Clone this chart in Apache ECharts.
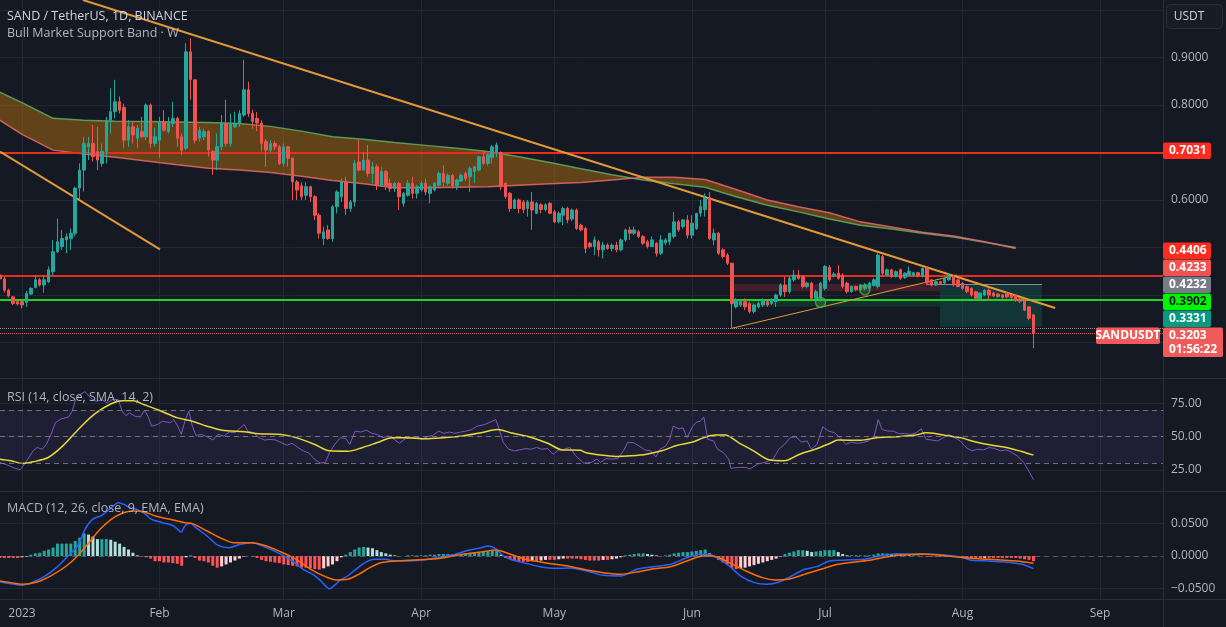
<!DOCTYPE html>
<html><head><meta charset="utf-8">
<script src="https://cdn.jsdelivr.net/npm/echarts@6/dist/echarts.min.js"></script>
<style>html,body{margin:0;padding:0;background:#151924;}#c{width:1226px;height:627px;}</style>
</head><body><div id="c"></div><script>
// ---------- DATA (day 0 = 2023-01-01, first candle = 2022-12-27) ----------
const firstDay = -5;
const open = [
.442,.434,.410,.396,.386,
.386,.384,.402,.416,.432,.421,.428,.449,.491,.502,
.516,.519,.530,.625,.663,.712,.719,.702,.677,.702,
.768,.786,.807,.795,.726,.754,.730,.744,.733,.800,
.719,.726,.765,.744,.761,.772,.733,.709,.912,.853,
.730,.733,.744,.702,.684,.712,.761,.719,.754,.761,
.779,.832,.782,.772,.762,.723,.705,.719,.712,.677,
.712,.688,.638,.630,.610,.628,.607,.568,.519,.537,
.519,.586,.607,.638,.582,.596,.680,.663,.684,.656,
.670,.630,.660,.635,.624,.635,.593,.610,.635,.614,
.621,.635,.614,.621,.631,.656,.635,.652,.630,.640,
.656,.649,.660,.663,.691,.677,.690,.700,.700,.635,
.614,.582,.600,.596,.582,.596,.572,.590,.580,.593,
.575,.554,.568,.582,.560,.579,.547,.540,.509,.502,
.512,.495,.505,.498,.505,.495,.516,.537,.530,.533,
.523,.512,.502,.509,.488,.510,.512,.523,.554,.544,
.558,.526,.540,.572,.580,.605,.516,.530,.495,.484,
.467,.375,.379,.386,.382,.365,.375,.379,.386,.382,
.386,.400,.421,.407,.432,.442,.439,.418,.425,.393,
.393,.414,.458,.440,.446,.442,.425,.407,.418,.411,
.414,.414,.420,.418,.481,.442,.453,.439,.453,.437,
.442,.441,.447,.439,.456,.432,.421,.428,.425,.432,
.439,.432,.425,.418,.414,.407,.393,.400,.410,.404,
.402,.400,.404,.400,.400,.392,.389,.375,.358];
const close = [
.434,.410,.398,.382,.381,
.379,.403,.414,.432,.421,.432,.453,.491,.512,.519,
.523,.530,.625,.663,.719,.719,.691,.684,.702,.768,
.786,.807,.789,.726,.754,.737,.751,.733,.800,.719,
.733,.765,.747,.765,.772,.730,.705,.912,.853,.726,
.747,.744,.705,.684,.712,.761,.719,.761,.761,.782,
.832,.782,.765,.762,.719,.705,.719,.712,.677,.712,
.688,.638,.621,.607,.628,.607,.568,.530,.533,.519,
.586,.617,.638,.582,.596,.677,.663,.684,.656,.670,
.630,.660,.630,.624,.635,.607,.614,.635,.614,.628,
.635,.617,.628,.635,.656,.638,.652,.630,.642,.652,
.645,.666,.670,.691,.677,.695,.712,.716,.628,.607,
.582,.600,.582,.580,.596,.579,.593,.580,.590,.572,
.554,.572,.582,.558,.579,.540,.537,.498,.502,.516,
.495,.505,.498,.505,.495,.516,.537,.530,.537,.523,
.509,.502,.516,.488,.516,.516,.530,.554,.537,.558,
.526,.551,.572,.586,.603,.519,.530,.488,.481,.467,
.382,.389,.386,.375,.365,.379,.382,.389,.379,.389,
.400,.421,.407,.435,.442,.435,.418,.425,.393,.407,
.425,.460,.432,.444,.435,.418,.407,.418,.411,.421,
.421,.425,.432,.484,.446,.453,.439,.449,.435,.446,
.450,.447,.440,.456,.425,.421,.428,.424,.435,.439,
.421,.418,.414,.407,.400,.393,.404,.410,.400,.398,
.397,.395,.396,.394,.389,.387,.368,.351,.3203];
const low = [
.430,.405,.395,.379,.378,
.372,.375,.400,.414,.418,.405,.425,.442,.488,.495,
.488,.495,.523,.600,.618,.684,.681,.663,.670,.677,
.740,.772,.782,.709,.712,.719,.709,.730,.726,.709,
.712,.688,.744,.740,.754,.712,.695,.705,.811,.719,
.723,.726,.691,.653,.663,.705,.712,.712,.751,.754,
.775,.775,.750,.745,.702,.670,.700,.705,.674,.670,
.670,.600,.600,.600,.600,.596,.558,.519,.505,.516,
.512,.572,.596,.568,.575,.586,.660,.663,.649,.635,
.621,.628,.621,.617,.617,.579,.586,.607,.603,.603,
.618,.610,.593,.618,.628,.628,.630,.624,.621,.638,
.640,.617,.635,.660,.674,.672,.677,.690,.621,.603,
.575,.582,.572,.572,.565,.537,.570,.572,.576,.570,
.551,.551,.547,.551,.556,.537,.534,.488,.498,.484,
.481,.477,.495,.492,.490,.492,.512,.516,.526,.520,
.505,.498,.502,.481,.484,.505,.505,.519,.533,.540,
.519,.519,.537,.565,.565,.516,.505,.484,.477,.463,
.330,.372,.375,.368,.361,.361,.372,.375,.375,.379,
.375,.396,.396,.403,.428,.432,.414,.414,.389,.389,
.386,.410,.428,.437,.432,.414,.403,.405,.408,.409,
.410,.412,.418,.414,.439,.440,.436,.437,.432,.434,
.440,.438,.437,.437,.421,.418,.419,.421,.423,.430,
.418,.416,.411,.404,.397,.389,.391,.398,.389,.396,
.394,.392,.393,.392,.386,.383,.366,.347,.288];
const high = [
.446,.438,.413,.398,.390,
.389,.409,.416,.442,.436,.442,.460,.516,.561,.537,
.530,.540,.628,.677,.733,.733,.758,.754,.719,.775,
.835,.853,.818,.803,.768,.765,.758,.775,.803,.803,
.751,.775,.789,.775,.807,.775,.740,.930,.940,.853,
.754,.750,.747,.705,.740,.779,.811,.782,.786,.789,
.895,.849,.790,.785,.768,.728,.726,.724,.716,.719,
.714,.690,.642,.637,.637,.630,.610,.572,.544,.547,
.589,.621,.645,.649,.600,.684,.726,.700,.716,.680,
.675,.670,.663,.645,.638,.638,.617,.642,.649,.632,
.640,.645,.630,.638,.660,.673,.656,.655,.645,.656,
.660,.670,.672,.693,.702,.698,.716,.721,.702,.637,
.617,.603,.603,.600,.600,.617,.596,.593,.593,.596,
.579,.576,.586,.586,.582,.582,.550,.544,.512,.523,
.516,.512,.509,.508,.512,.519,.540,.544,.544,.537,
.526,.516,.523,.512,.526,.520,.530,.575,.558,.560,
.568,.568,.572,.600,.614,.617,.540,.533,.498,.488,
.467,.393,.389,.393,.386,.382,.386,.393,.389,.393,
.403,.425,.439,.439,.453,.453,.442,.428,.428,.411,
.428,.463,.463,.448,.463,.446,.428,.420,.420,.423,
.425,.428,.435,.488,.484,.456,.455,.452,.456,.448,
.460,.449,.449,.458,.460,.434,.430,.430,.437,.446,
.442,.434,.427,.420,.416,.409,.406,.412,.414,.407,
.404,.402,.406,.402,.402,.395,.392,.377,.361];

// Bull Market Support Band (weekly points)
const bandDays = [-5,0,7,14,21,28,35,42,49,56,63,70,77,84,91,98,105,112,119,126,133,140,147,154,161,168,175,182,189,196,203,210,217,224];
const ema21w = [.827,.805,.772,.768,.766,.765,.764,.763,.761,.755,.745,.733,.728,.721,.715,.709,.702,.691,.679,.666,.653,.642,.634,.627,.607,.589,.575,.560,.547,.539,.530,.522,.511,.500];
const sma20w = [.768,.738,.705,.697,.690,.682,.674,.667,.663,.658,.650,.641,.634,.626,.626,.627,.628,.631,.634,.637,.642,.648,.648,.643,.622,.600,.586,.573,.554,.543,.532,.524,.512,.498];

// RSI (14) and its SMA (14) — [day, value]
const rsiLine = [[-5,30.7],[-3.3,28.8],[-1.6,26.3],[-0.4,25.3],[0.2,27.8],[1.3,33.2],[2.5,39.4],[3.4,41.9],[4.6,40.6],[5.5,44.3],[6.7,53.0],[7.5,60.4],[8.8,63.3],[10.5,64.8],[11.3,69.0],[12.1,77.7],[13,81.4],[14.2,83.8],[15.5,78.9],[16.7,76.4],[18,77.7],[19.2,75.2],[20.5,78.1],[21.7,77.7],[22.6,69.0],[23.4,65.8],[24.2,67.8],[25.5,65.3],[26.7,64.8],[27.6,69.8],[28.4,65.3],[29.2,57.9],[30.5,59.1],[31.7,61.6],[33.4,60.4],[34.2,62.8],[35.1,57.9],[35.9,51.7],[36.7,61.6],[37.6,69.0],[38.4,57.9],[39.2,51.0],[40.5,51.7],[41.7,50.0],[43,47.5],[44.2,51.7],[45.5,50.5],[46.7,53.5],[48,53.0],[49.2,56.7],[50.1,59.1],[50.9,54.2],[52.2,53.0],[53.4,49.3],[54.7,47.5],[55.9,48.0],[57.2,47.5],[58.4,45.6],[59.7,43.6],[60.9,45.1],[62.2,41.9],[63.4,39.4],[64.7,37.7],[65.9,33.2],[67.2,30.2],[68.4,30.7],[69.3,38.1],[70.5,44.3],[71.8,49.3],[73,48.5],[73.9,44.3],[75.1,54.2],[76.4,53.5],[77.6,54.9],[78.9,52.5],[80.1,51.7],[81.4,49.3],[82.6,50.5],[83.9,48.0],[85.1,45.1],[86.4,48.5],[87.6,49.3],[88.9,50.0],[90.1,48.0],[91.4,50.0],[92.6,51.0],[93.9,54.2],[95.1,52.5],[96.4,53.5],[97.6,52.5],[98.9,53.5],[100.1,54.2],[101.4,55.4],[102.6,57.9],[104.3,59.1],[105.5,60.9],[106.8,62.8],[107.6,55.4],[108.5,45.6],[109.7,40.6],[111,39.4],[112.2,40.1],[113.5,41.1],[114.7,40.6],[116,41.9],[117.2,40.6],[118.5,41.1],[119.7,36.9],[121,40.1],[122.2,40.6],[123.5,41.9],[124.8,35.7],[126.6,30.2],[128.3,30.7],[129.6,33.2],[130.4,30.7],[131.7,33.7],[133,33.2],[134.3,33.7],[135.6,39.4],[136.5,45.6],[137.8,45.6],[139.1,43.1],[140.4,40.1],[141.7,39.4],[142.9,34.9],[143.8,40.6],[145.1,43.1],[146,48.0],[146.8,57.9],[148.1,55.9],[149,56.7],[149.9,49.3],[151.2,57.9],[152,60.9],[152.9,61.6],[153.7,64.8],[154.6,48.0],[155.9,46.8],[156.8,40.6],[158.1,38.1],[159.3,33.2],[159.8,26.3],[161.5,27.0],[163.2,27.0],[164.1,25.8],[165.8,29.5],[167.5,30.7],[169.3,33.2],[170.6,40.6],[171.9,44.3],[173.2,49.3],[174.4,50.0],[175.7,46.0],[177,46.8],[177.9,40.6],[179.2,44.3],[180.5,57.4],[181.8,54.2],[183.1,53.0],[184.4,49.3],[185.7,44.3],[186.9,46.0],[188.2,45.1],[189.5,45.6],[190.8,46.8],[192.1,50.5],[193,62.8],[193.9,55.4],[195.2,54.2],[196.4,54.2],[197.7,52.2],[199,52.5],[200.3,51.7],[201.6,53.0],[202.7,55.9],[203.8,48.0],[205.1,47.5],[206.4,46.8],[207.7,49.3],[208.9,51.7],[210.3,49.3],[211.5,46.8],[212.8,41.9],[214.1,39.4],[215.4,40.6],[216.7,40.1],[218,41.9],[219.3,41.1],[220.6,39.4],[221.9,40.1],[223.2,38.1],[224.5,35.2],[225.8,30.7],[227.1,23.3],[228,17.9]];
const rsiMa = [[-5,33.2],[-2.5,32.0],[0.2,30.0],[2.5,31.2],[5.9,34.4],[9.2,43.1],[13.4,57.9],[16.7,67.8],[20.1,74.7],[22.6,76.9],[25.1,76.9],[27.6,73.9],[30.9,69.8],[35.1,64.1],[38.4,61.6],[41.7,57.9],[45.1,54.9],[50.1,53.7],[53.4,52.2],[58.4,51.7],[61.8,49.3],[65.9,44.3],[69.3,39.4],[73.4,39.1],[76.8,41.9],[80.1,45.6],[83.4,49.3],[86.8,49.3],[90.9,48.5],[95.1,49.3],[99.3,50.5],[103.5,53.0],[107.2,55.4],[110.1,53.0],[114.3,50.0],[118.5,45.1],[121.8,40.1],[125.8,39.9],[127,38.1],[130.4,36.2],[133.9,35.2],[137.3,35.7],[140.8,36.9],[144.2,39.4],[147.7,43.6],[151.2,46.0],[153.7,49.3],[156.3,51.2],[158.5,51.2],[161.5,45.6],[164.9,39.4],[168.4,32.7],[171.9,32.0],[175.3,36.9],[178.8,40.6],[182.2,45.1],[183.9,47.5],[189.1,47.3],[192.6,49.3],[196.9,50.0],[201.2,51.0],[203.8,53.0],[205.5,52.5],[208.1,51.0],[211.5,49.3],[215,46.0],[218.4,43.8],[221.9,41.9],[225.3,38.9],[228,36.2]];

// MACD (12, 26, 9) — [day, value]
const macdLine = [[-5,-0.040],[-2.5,-0.0426],[0,-0.0451],[2.5,-0.040],[5,-0.0318],[7.5,-0.0195],[10,-0.0026],[12.5,0.0154],[14.2,0.041],[15.9,0.0564],[18,0.0626],[20.1,0.0744],[21.7,0.082],[23,0.0795],[24.2,0.0744],[25.9,0.0718],[27.6,0.0657],[29.2,0.0564],[31.7,0.0513],[34.2,0.0462],[35.9,0.0369],[36.7,0.0462],[38,0.0503],[39.2,0.0436],[41.7,0.0308],[44.2,0.0164],[46.7,0.0128],[49.2,0.018],[51.8,0.0205],[55.1,0.0128],[58.4,0.0026],[60.9,-0.0077],[63.4,-0.0205],[65.9,-0.0298],[67.6,-0.040],[69.3,-0.0503],[70.1,-0.0472],[71.8,-0.0369],[73.4,-0.0308],[75.1,-0.0215],[77.6,-0.0092],[79.3,-0.0051],[81.8,-0.0051],[84.3,-0.0077],[86.8,-0.0077],[90.1,-0.0062],[93.5,-0.0026],[96.8,0.001],[100.1,0.0077],[103.5,0.0128],[105.1,0.0154],[106.8,0.0113],[108.5,0],[110.1,-0.0051],[113.5,-0.0113],[116.8,-0.0164],[120.1,-0.019],[123.5,-0.0185],[127.3,-0.0231],[131.1,-0.0298],[134.9,-0.0308],[138.6,-0.0205],[142.4,-0.0164],[146.2,-0.0128],[149.9,-0.0026],[152.8,0.0026],[154.7,0.0026],[156.6,-0.0026],[159.4,-0.0154],[162.2,-0.0318],[165.1,-0.041],[167.9,-0.0436],[170.7,-0.040],[173.5,-0.0308],[176.4,-0.0205],[179.2,-0.0164],[182,-0.0077],[185.8,-0.0062],[189.6,-0.0051],[193.4,0],[197.1,0.0036],[200.9,0.0026],[204.7,0.0026],[208.4,0.001],[212.2,-0.0026],[214.1,-0.0067],[217.9,-0.0077],[221.6,-0.0092],[225.4,-0.0128],[228,-0.0195]];
const signalLine = [[-5,-0.0385],[-2.5,-0.041],[0,-0.0436],[3.4,-0.040],[6.7,-0.0298],[10,-0.0154],[12.5,0],[15.1,0.0205],[17.6,0.041],[20.1,0.0564],[22.6,0.0657],[25.1,0.0693],[27.6,0.0677],[30.1,0.0616],[33.4,0.0564],[36.7,0.0513],[38.4,0.0498],[41.7,0.0385],[45.1,0.0267],[47.6,0.0205],[51.8,0.0205],[55.1,0.0154],[58.4,0.0062],[61.8,-0.0051],[65.1,-0.0205],[68.4,-0.0318],[70.9,-0.0369],[73.4,-0.0359],[75.9,-0.0282],[78.4,-0.018],[80.9,-0.0103],[84.3,-0.0077],[88.4,-0.0062],[91.8,-0.0051],[95.1,-0.0026],[99.3,0.0026],[103.5,0.0062],[106.8,0.0092],[110.1,0.0026],[113.5,-0.0051],[116.8,-0.0092],[120.1,-0.0128],[123.5,-0.016],[127.3,-0.0215],[131.1,-0.0257],[134.9,-0.0282],[138.6,-0.0246],[142.4,-0.0195],[146.2,-0.0164],[149.9,-0.0077],[153.7,0],[155.6,0],[159.4,-0.0103],[163.2,-0.0231],[166.9,-0.0333],[169.8,-0.0369],[172.6,-0.0359],[176.4,-0.0282],[180.1,-0.0205],[183.9,-0.0128],[187.7,-0.0092],[191.5,-0.0062],[195.2,-0.001],[199,0.002],[202.8,0.0031],[206.6,0.0015],[210.3,-0.001],[214.1,-0.0036],[217.9,-0.0051],[221.6,-0.0067],[225.4,-0.0087],[228,-0.0113]];
const macdHist = [
-0.003,-0.003,-0.003,-0.003,-0.003,
-0.002,-0.001,0.002,0.004,0.005,0.008,0.010,0.013,0.019,0.019,
0.019,0.019,0.023,0.028,0.035,0.033,0.030,0.026,0.026,0.026,
0.025,0.022,0.019,0.014,0.010,0.005,0.001,-0.001,-0.002,-0.004,
-0.008,-0.008,-0.010,-0.010,-0.011,-0.012,-0.015,-0.002,0.001,-0.003,
-0.007,-0.008,-0.010,-0.015,-0.018,-0.016,-0.013,-0.010,-0.007,-0.004,
-0.001,0.000,-0.001,-0.003,-0.006,-0.008,-0.009,-0.010,-0.011,-0.013,
-0.014,-0.015,-0.016,-0.018,-0.018,-0.019,-0.020,-0.021,-0.019,-0.016,
-0.013,-0.008,-0.002,0.002,0.006,0.010,0.013,0.014,0.013,0.012,
0.009,0.006,0.004,0.002,0.001,0.000,0.000,0.001,0.001,0.0005,
0.001,0.001,0.002,0.002,0.003,0.003,0.003,0.002,0.002,0.003,
0.004,0.005,0.005,0.006,0.006,0.007,0.008,0.008,0.002,-0.003,
-0.005,-0.007,-0.008,-0.009,-0.009,-0.008,-0.008,-0.007,-0.006,-0.006,
-0.006,-0.005,-0.004,-0.004,-0.004,-0.004,-0.005,-0.006,-0.007,-0.007,
-0.007,-0.006,-0.006,-0.005,-0.004,-0.002,0.001,0.002,0.003,0.004,
0.004,0.003,0.002,0.001,0.000,0.001,0.002,0.004,0.005,0.006,
0.006,0.007,0.008,0.009,0.010,0.004,-0.002,-0.006,-0.010,-0.013,
-0.018,-0.020,-0.019,-0.018,-0.016,-0.014,-0.012,-0.010,-0.008,-0.006,
-0.004,-0.001,0.003,0.005,0.007,0.009,0.009,0.008,0.006,0.007,
0.008,0.009,0.009,0.009,0.006,0.003,0.001,0.001,0.001,0.0005,
0.001,0.001,0.002,0.004,0.004,0.004,0.003,0.003,0.002,0.002,
0.001,0.001,0.001,0.000,-0.001,-0.001,-0.001,-0.001,-0.0005,-0.0005,
-0.001,-0.002,-0.002,-0.003,-0.003,-0.004,-0.004,-0.003,-0.003,-0.003,
-0.003,-0.003,-0.003,-0.003,-0.003,-0.004,-0.005,-0.006,-0.008];

// Axis ticks / labels
const monthDays = [0,31,59,90,120,151,181,212,243];
const monthLabels = ['2023','Feb','Mar','Apr','May','Jun','Jul','Aug','Sep'];
const priceTickLabels = [0.9,0.8,0.6];
const priceGridLevels = [0.3,0.4,0.5,0.6,0.7,0.8,0.9,1.0];
const rsiTickLabels = [25,50,75];
const macdTickLabels = [-0.05,0,0.05];

// Drawings
const redLevels = [0.7031,0.4406];
const greenLevels = [0.3902];
const trendLines = [[[13.75,1.021],[232.9,0.3726]],[[-4.96,0.7017],[31.1,0.4962]],[[160.0,0.3299],[210.7,0.4421]]];
const redZone = [[160,0.4232],[206.9,0.4077]];
const greenZone = [[160,0.3902],[206.9,0.375]];
const targetBox = [[206.9,0.4232],[229.9,0.3331]];
const entryLine = [[204,0.4232],[229.9,0.4232]];
const signalMarks = [[180,0.3846],[190,0.4105]];
const lastPrice = 0.3203;
const countdown = '01:56:22';
const refDotted = 0.3275;
const axisTagPrices = [0.7031,0.4406,0.4233,0.4232,0.3902,0.3331];

// ---------- CHART ----------
const BG='#151924', GRID='#222632', SEP='#2a2e39', TXT='#b2b5be';
const FONT='"Open Sans","Noto Sans",sans-serif';
const xMin=-4.96, xMax=257.2;
const UP='#26a69a', DOWN='#ef5350';

const candleData = open.map((o,i)=>[firstDay+i,o,close[i],low[i],high[i]]);
const histData = macdHist.map((v,i)=>{
  const prev = i>0?macdHist[i-1]:v;
  let c;
  if(v>=0) c = v>=prev?'#26a69a':'#b2dfdb'; else c = v>prev?'#ffcdd2':'#ff5252';
  return {value:[firstDay+i,v],itemStyle:{color:c}};
});

function xAxis(gi,showLabel){
  return {type:'value',gridIndex:gi,min:xMin,max:xMax,
    axisLine:{show:false},axisTick:{show:false,customValues:monthDays},
    splitLine:{show:true,lineStyle:{color:GRID,width:1}},
    axisLabel:{show:showLabel,customValues:monthDays,color:TXT,fontSize:12,fontFamily:FONT,margin:9,
      formatter:v=>monthLabels[monthDays.indexOf(v)]||''}};
}
function yAxis(gi,min,max,gridVals,labelVals,fmt){
  return {type:'value',gridIndex:gi,position:'right',min:min,max:max,
    axisLine:{show:false},axisTick:{show:false,customValues:gridVals},
    splitLine:{show:true,lineStyle:{color:GRID,width:1}},
    axisLabel:{customValues:labelVals,color:TXT,fontSize:12,fontFamily:FONT,margin:8,formatter:fmt}};
}
const option = {
  backgroundColor:BG, animation:false,
  grid:[
    {left:0,top:0,width:1163,height:378,containLabel:false},
    {left:0,top:379,width:1163,height:112,containLabel:false},
    {left:0,top:492,width:1163,height:107,containLabel:false}
  ],
  xAxis:[xAxis(0,false),xAxis(1,false),xAxis(2,true)],
  yAxis:[
    yAxis(0,0.22526,1.02105,priceGridLevels,priceTickLabels,v=>v.toFixed(4)),
    yAxis(1,9.3,93.25,rsiTickLabels,rsiTickLabels,v=>v.toFixed(2)),
    yAxis(2,-0.0662,0.0985,macdTickLabels,macdTickLabels,v=>(v<0?'\u2212':'')+Math.abs(v).toFixed(4))
  ],
  series:[
    {type:'custom',name:'Band fill',xAxisIndex:0,yAxisIndex:0,data:[[bandDays[0],ema21w[0]]],silent:true,z:1,clip:true,
      renderItem:(params,api)=>{
        const up = bandDays.map((d,i)=>api.coord([d,ema21w[i]]));
        const dn = bandDays.map((d,i)=>api.coord([d,sma20w[i]])).reverse();
        return {type:'polygon',shape:{points:up.concat(dn)},style:{fill:'rgba(255,152,0,0.33)'}};
      }},
    {type:'line',name:'EMA 21W',xAxisIndex:0,yAxisIndex:0,data:bandDays.map((d,i)=>[d,ema21w[i]]),symbol:'none',
      lineStyle:{color:'#5fae5f',width:1.5,opacity:0.85},silent:true,z:2},
    {type:'line',name:'SMA 20W',xAxisIndex:0,yAxisIndex:0,data:bandDays.map((d,i)=>[d,sma20w[i]]),symbol:'none',
      lineStyle:{color:'#e8686a',width:1.5,opacity:0.85},silent:true,z:2},
    {type:'candlestick',name:'SANDUSDT',xAxisIndex:0,yAxisIndex:0,data:candleData,barWidth:3,z:5,
      itemStyle:{color:UP,color0:DOWN,borderColor:UP,borderColor0:DOWN,borderWidth:1},
      markArea:{silent:true,data:[
        [{coord:redZone[0],itemStyle:{color:'rgba(242,54,69,0.2)'}},{coord:redZone[1]}],
        [{coord:greenZone[0],itemStyle:{color:'rgba(0,200,83,0.14)'}},{coord:greenZone[1]}],
        [{coord:targetBox[0],itemStyle:{color:'rgba(8,153,129,0.22)'}},{coord:targetBox[1]}]
      ]},
      markLine:{silent:true,symbol:['none','none'],label:{show:false},animation:false,data:[
        ...redLevels.map(v=>({yAxis:v,lineStyle:{color:'#e52e20',width:2,type:'solid'}})),
        ...greenLevels.map(v=>({yAxis:v,lineStyle:{color:'#1fd41f',width:2,type:'solid'}})),
        {yAxis:refDotted,lineStyle:{color:'#9598a1',width:1,type:'dotted'}},
        {yAxis:lastPrice,lineStyle:{color:'#ef5350',width:1,type:'dotted'}},
        [{coord:entryLine[0],lineStyle:{color:'#8a8d96',width:1,type:'solid'}},{coord:entryLine[1]}],
        [{coord:trendLines[0][0],lineStyle:{color:'#e39a36',width:2,type:'solid'}},{coord:trendLines[0][1]}],
        [{coord:trendLines[1][0],lineStyle:{color:'#e39a36',width:2,type:'solid'}},{coord:trendLines[1][1]}],
        [{coord:trendLines[2][0],lineStyle:{color:'#e39a36',width:1,type:'solid'}},{coord:trendLines[2][1]}]
      ]}
    },
    {type:'scatter',xAxisIndex:0,yAxisIndex:0,data:signalMarks,symbol:'circle',symbolSize:10,z:6,silent:true,
      itemStyle:{color:'rgba(76,175,80,0.35)',borderColor:'#4caf50',borderWidth:1.5}},
    // RSI
    {type:'line',name:'RSI',xAxisIndex:1,yAxisIndex:1,data:rsiLine,symbol:'none',lineStyle:{color:'#7e57c2',width:1},z:3,silent:true,
      markArea:{silent:true,data:[[{yAxis:30,itemStyle:{color:'rgba(126,87,194,0.1)'}},{yAxis:70}]]},
      markLine:{silent:true,symbol:['none','none'],label:{show:false},
        lineStyle:{color:'#787b86',width:1,type:[5,4],opacity:0.9},data:[{yAxis:70},{yAxis:50},{yAxis:30}]}},
    {type:'line',name:'RSI MA',xAxisIndex:1,yAxisIndex:1,data:rsiMa,symbol:'none',smooth:0.3,lineStyle:{color:'#e8d83a',width:1.5},z:4,silent:true},
    // MACD
    {type:'bar',name:'Histogram',xAxisIndex:2,yAxisIndex:2,data:histData,barWidth:3,z:2,silent:true,
      markLine:{silent:true,symbol:['none','none'],label:{show:false},
        lineStyle:{color:'#787b86',width:1,type:[5,4],opacity:0.6},data:[{yAxis:0}]}},
    {type:'line',name:'MACD',xAxisIndex:2,yAxisIndex:2,data:macdLine,symbol:'none',smooth:0.3,lineStyle:{color:'#2962ff',width:1.5},z:3,silent:true},
    {type:'line',name:'Signal',xAxisIndex:2,yAxisIndex:2,data:signalLine,symbol:'none',smooth:0.3,lineStyle:{color:'#ff6d00',width:1.5},z:3,silent:true}
  ]
};
const chart = echarts.init(document.getElementById('c'),null,{renderer:'canvas',width:1226,height:627});
chart.setOption(option);

// ---------- overlays: separators, legends, axis price tags ----------
const tagStyles = [
  {bg:'#ff2b1e',fg:'#ffffff'},{bg:'#ff2b1e',fg:'#ffffff'},{bg:'#f0524f',fg:'#ffffff'},
  {bg:'#787b86',fg:'#ffffff'},{bg:'#00f500',fg:'#131722'},{bg:'#089981',fg:'#ffffff'}
];
const TAG_LIFT = 7;
const g = [];
const hLine=(y)=>({type:'line',z:50,silent:true,shape:{x1:0,y1:y,x2:1226,y2:y},style:{stroke:SEP,lineWidth:1}});
g.push(hLine(378.5),hLine(491.5),hLine(599.5));
g.push({type:'line',z:50,silent:true,shape:{x1:1163.5,y1:0,x2:1163.5,y2:627},style:{stroke:SEP,lineWidth:1}});
const txt=(x,y,t,fill,size)=>({type:'text',z:60,silent:true,x:x,y:y,
  style:{text:t,fill:fill,font:(size||13)+'px '+FONT,align:'left',verticalAlign:'middle'}});
g.push(txt(7,16.5,'SAND / TetherUS, 1D, BINANCE','#d1d4dc',12.5));
g.push(txt(7,33.5,'Bull Market Support Band \u00b7 W','#b2b5be',12.5));
g.push(txt(7,397.5,'RSI (14, close, SMA, 14, 2)','#b2b5be',12.5));
g.push(txt(7,508,'MACD (12, 26, close, 9, EMA, EMA)','#b2b5be',12.5));
g.push({type:'rect',z:60,silent:true,shape:{x:1166.5,y:4.5,width:56,height:24,r:4},style:{fill:'#181c27',stroke:'#2a2e39',lineWidth:1}});
g.push({type:'text',z:61,silent:true,x:1189,y:16.5,style:{text:'USDT',fill:'#d1d4dc',font:'12px '+FONT,align:'center',verticalAlign:'middle'}});

const items = axisTagPrices.map((p,i)=>({d:chart.convertToPixel({yAxisIndex:0},p),h:17,lines:[p.toFixed(4)],st:tagStyles[i]}));
items.push({d:chart.convertToPixel({yAxisIndex:0},lastPrice),h:30,lines:[lastPrice.toFixed(4),countdown],st:{bg:'#f05a5a',fg:'#ffffff'},last:true});
items.sort((a,b)=>a.d-b.d);
let clusters = items.map(it=>({items:[it],top:it.d-8.5,h:it.h,n:1}));
let changed=true;
while(changed){
  changed=false;
  for(let i=0;i<clusters.length-1;i++){
    const a=clusters[i],b=clusters[i+1];
    if(a.top+a.h>b.top+0.01){
      const its=a.items.concat(b.items);let off=0,sum=0;
      its.forEach(it=>{sum+=it.d-8.5-off;off+=it.h;});
      clusters.splice(i,2,{items:its,top:sum/its.length,h:off,n:its.length});changed=true;break;
    }
  }
}
clusters.forEach(c=>{let off=0;const lift=c.n>1?TAG_LIFT:0;c.items.forEach(it=>{it.top=c.top-lift+off;off+=it.h;});});
items.forEach(it=>{
  const w = it.last?60:48;
  g.push({type:'rect',z:70,silent:true,shape:{x:1163,y:it.top,width:w,height:it.h-0.5,r:2},style:{fill:it.st.bg}});
  it.lines.forEach((t,k)=>{
    g.push({type:'text',z:71,silent:true,x:1169,y:it.top+8.5+k*14,
      style:{text:t,fill:it.st.fg,font:'bold 12px '+FONT,align:'left',verticalAlign:'middle'}});
  });
  if(it.last){
    g.push({type:'rect',z:70,silent:true,shape:{x:1096,y:it.top,width:64,height:16.5,r:2},style:{fill:it.st.bg}});
    g.push({type:'text',z:71,silent:true,x:1128,y:it.top+8.5,
      style:{text:'SANDUSDT',fill:'#ffffff',font:'bold 12px '+FONT,align:'center',verticalAlign:'middle'}});
  }
});
chart.setOption({graphic:{elements:g}});
</script></body></html>
